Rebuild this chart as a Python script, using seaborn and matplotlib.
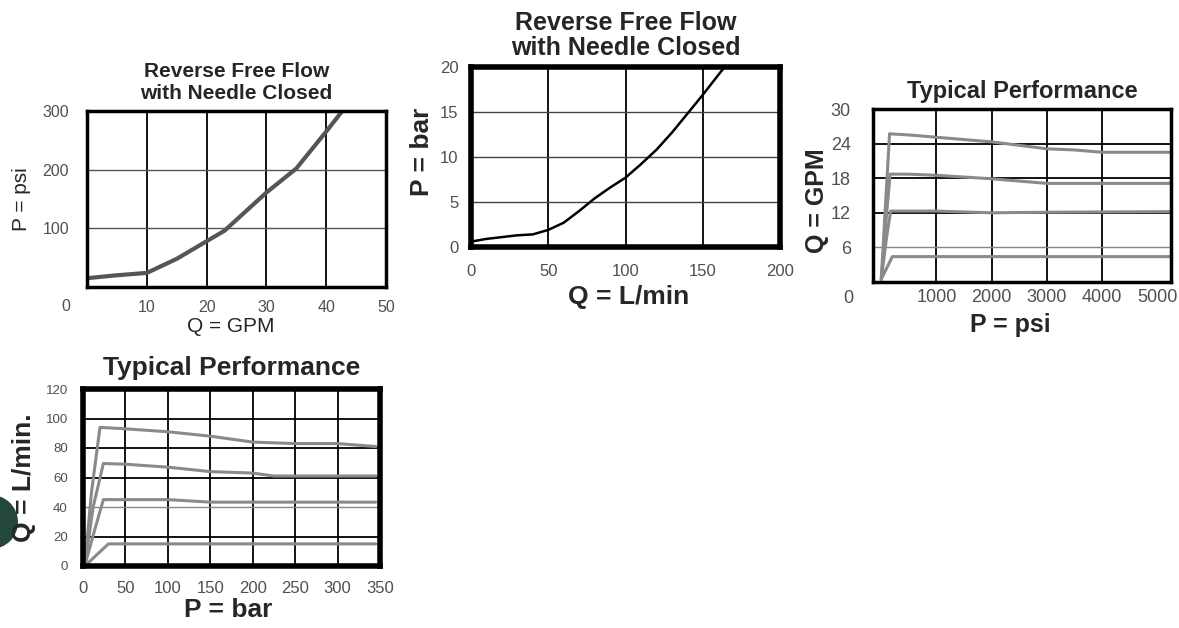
import matplotlib
matplotlib.use("Agg")
import matplotlib.pyplot as plt
from matplotlib.patches import Circle
import seaborn as sns
import pandas as pd

# reverse free flow, US units
gpm_q = [0, 5, 10, 15, 20, 23, 30, 35, 40, 42.7]
psi_p = [15, 20, 24, 48, 78, 96, 161, 202, 265, 300]

# reverse free flow, metric
lpm_q = [0, 10, 20, 30, 40, 50, 60, 70, 80, 90, 100, 110, 120, 130, 140, 150, 160, 166]
bar_p = [0.6, 0.9, 1.1, 1.3, 1.4, 1.9, 2.7, 4.0, 5.4, 6.6, 7.7, 9.2, 10.8, 12.7, 14.8, 16.9, 19.1, 20.4]

# typical performance, US units (4 settings)
perf_psi = [
    [0, 80, 150, 500, 1000, 1500, 2000, 2500, 3000, 3500, 4000, 5250],
    [0, 80, 160, 500, 1000, 1500, 2000, 2500, 3000, 4000, 5250],
    [0, 100, 170, 1000, 2000, 3000, 5250],
    [0, 200, 5250],
]
perf_gpm = [
    [0.5, 14, 25.7, 25.5, 25.1, 24.7, 24.3, 23.7, 23.1, 22.9, 22.5, 22.5],
    [0.5, 10, 18.7, 18.7, 18.5, 18.2, 17.9, 17.5, 17.1, 17.1, 17.1],
    [0.5, 8, 12.3, 12.3, 12.0, 12.1, 12.2],
    [0.5, 4.4, 4.4],
]

# typical performance, metric
perf_bar = [
    [2, 10, 20, 50, 100, 150, 200, 250, 300, 345],
    [2, 12, 24, 50, 100, 150, 200, 225, 345],
    [2, 14, 24, 100, 150, 345],
    [2, 30, 345],
]
perf_lpm = [
    [0, 50, 94, 93, 91, 88, 84, 83, 83, 81],
    [0, 40, 69.5, 69, 67, 64, 63, 61, 61],
    [0, 25, 45, 45, 43.3, 43.3],
    [0, 15, 15],
]

sns.set_style("white")
plt.rcParams["font.family"] = ["Liberation Sans", "DejaVu Sans"]

fig = plt.figure(figsize=(11.79, 6.28), dpi=100)
W, H = 1179, 628


def box(l, t, r, b):
    return fig.add_axes([l / W, 1 - b / H, (r - l) / W, (b - t) / H])


def long_df(xs, ys, xname, yname):
    rows = []
    for i, (x, y) in enumerate(zip(xs, ys)):
        for a, b in zip(x, y):
            rows.append({xname: a, yname: b, "curve": i})
    return pd.DataFrame(rows)


def style(ax, spine_w, xpad, ypad, xsize, ysize):
    for s in ax.spines.values():
        s.set_linewidth(spine_w)
        s.set_color("black")
    ax.tick_params(length=0, labelcolor="#505050")
    ax.tick_params(axis="x", pad=xpad, labelsize=xsize)
    ax.tick_params(axis="y", pad=ypad, labelsize=ysize)
    ax.set_axisbelow(True)


def labels(ax, xl, yl, size, weight, xpos, ypos):
    ax.set_xlabel(xl, fontsize=size, fontweight=weight)
    ax.set_ylabel(yl, fontsize=size, fontweight=weight)
    ax.xaxis.set_label_coords(*xpos)
    ax.yaxis.set_label_coords(*ypos)
    ax.xaxis.label.set_va("center")
    ax.yaxis.label.set_va("center")


# ---- chart 1 ----
ax1 = box(87, 111, 386, 287)
for x in [10, 20, 30, 40]:
    ax1.axvline(x, color="black", lw=1.3)
for y in [100, 200]:
    ax1.axhline(y, color="#555555", lw=1.0)
sns.lineplot(x=gpm_q, y=psi_p, ax=ax1, color="#555555", lw=3)
ax1.set_xlim(0, 50)
ax1.set_ylim(0, 300)
ax1.set_xticks([10, 20, 30, 40, 50])
ax1.set_yticks([100, 200, 300])
style(ax1, 2.5, 9.5, 13, 11.5, 11.5)
ax1.text(-0.07, -0.108, "0", transform=ax1.transAxes, fontsize=11.5, color="#505050",
         ha="center", va="center")
ax1.set_title("Reverse Free Flow\nwith Needle Closed", fontsize=15, fontweight="semibold",
              pad=9, linespacing=1.2)
labels(ax1, "Q = GPM", "P = psi", 15, "normal", (0.48, -0.227), (-0.218, 0.5))

# ---- chart 2 ----
ax2 = box(471, 67, 780, 247)
for x in [50, 100, 150]:
    ax2.axvline(x, color="black", lw=1.3)
for y in [5, 10, 15]:
    ax2.axhline(y, color="#444444", lw=1.0)
sns.lineplot(x=lpm_q, y=bar_p, ax=ax2, color="black", lw=1.8)
ax2.set_xlim(0, 200)
ax2.set_ylim(0, 20)
ax2.set_xticks([0, 50, 100, 150, 200])
ax2.set_yticks([0, 5, 10, 15, 20])
style(ax2, 4, 12, 9, 12, 12)
ax2.set_title("Reverse Free Flow\nwith Needle Closed", fontsize=18, fontweight="bold",
              pad=9, linespacing=1.05)
labels(ax2, "Q = L/min", "P = bar", 19, "bold", (0.51, -0.278), (-0.159, 0.53))

# ---- chart 3 ----
ax3 = box(873, 109, 1171, 282)
for x in [1000, 2000, 3000, 4000]:
    ax3.axvline(x, color="black", lw=1.3)
for y in [12, 18, 24]:
    ax3.axhline(y, color="black", lw=1.3)
ax3.axhline(6, color="#888888", lw=1.0)
df3 = long_df(perf_psi, perf_gpm, "psi", "gpm")
sns.lineplot(data=df3, x="psi", y="gpm", units="curve", estimator=None, ax=ax3,
             color="#8a8a8a", lw=2.2, sort=False)
ax3.set_xlim(-150, 5250)
ax3.set_ylim(0, 30)
ax3.set_xticks([1000, 2000, 3000, 4000, 5000])
ax3.set_yticks([6, 12, 18, 24, 30])
style(ax3, 2.5, 5, 16, 13, 13)
ax3.text(-0.084, -0.098, "0", transform=ax3.transAxes, fontsize=13, color="#505050",
         ha="center", va="center")
ax3.set_title("Typical Performance", fontsize=17, fontweight="bold", pad=8)
labels(ax3, "P = psi", "Q = GPM", 18, "bold", (0.46, -0.249), (-0.188, 0.47))

# ---- chart 4 ----
ax4 = box(83, 389, 380, 566)
for x in [50, 100, 150, 200, 250, 300]:
    ax4.axvline(x, color="black", lw=1.3)
for y in [20, 60, 80, 100]:
    ax4.axhline(y, color="black", lw=1.3)
ax4.axhline(40, color="#888888", lw=1.0)
df4 = long_df(perf_bar, perf_lpm, "bar", "lpm")
sns.lineplot(data=df4, x="bar", y="lpm", units="curve", estimator=None, ax=ax4,
             color="#8a8a8a", lw=2.2, sort=False)
ax4.set_xlim(0, 350)
ax4.set_ylim(0, 120)
ax4.set_xticks([0, 50, 100, 150, 200, 250, 300, 350])
ax4.set_yticks([0, 20, 40, 60, 80, 100, 120])
style(ax4, 4, 11, 11, 12, 9.5)
ax4.set_title("Typical Performance", fontsize=19, fontweight="bold", pad=10)
labels(ax4, "P = bar", "Q = L/min.", 19, "bold", (0.49, -0.249), (-0.2, 0.5))

for ax in [ax1, ax2, ax3, ax4]:
    if ax.get_legend():
        ax.get_legend().remove()

# dark ball at the lower-left edge, behind the y label
fig.patches.append(Circle((-0.09, (H - 522) / 100), 0.27, transform=fig.dpi_scale_trans,
                          facecolor="#23473b", edgecolor="none", zorder=-1))

fig.savefig("out.png", dpi=100)
